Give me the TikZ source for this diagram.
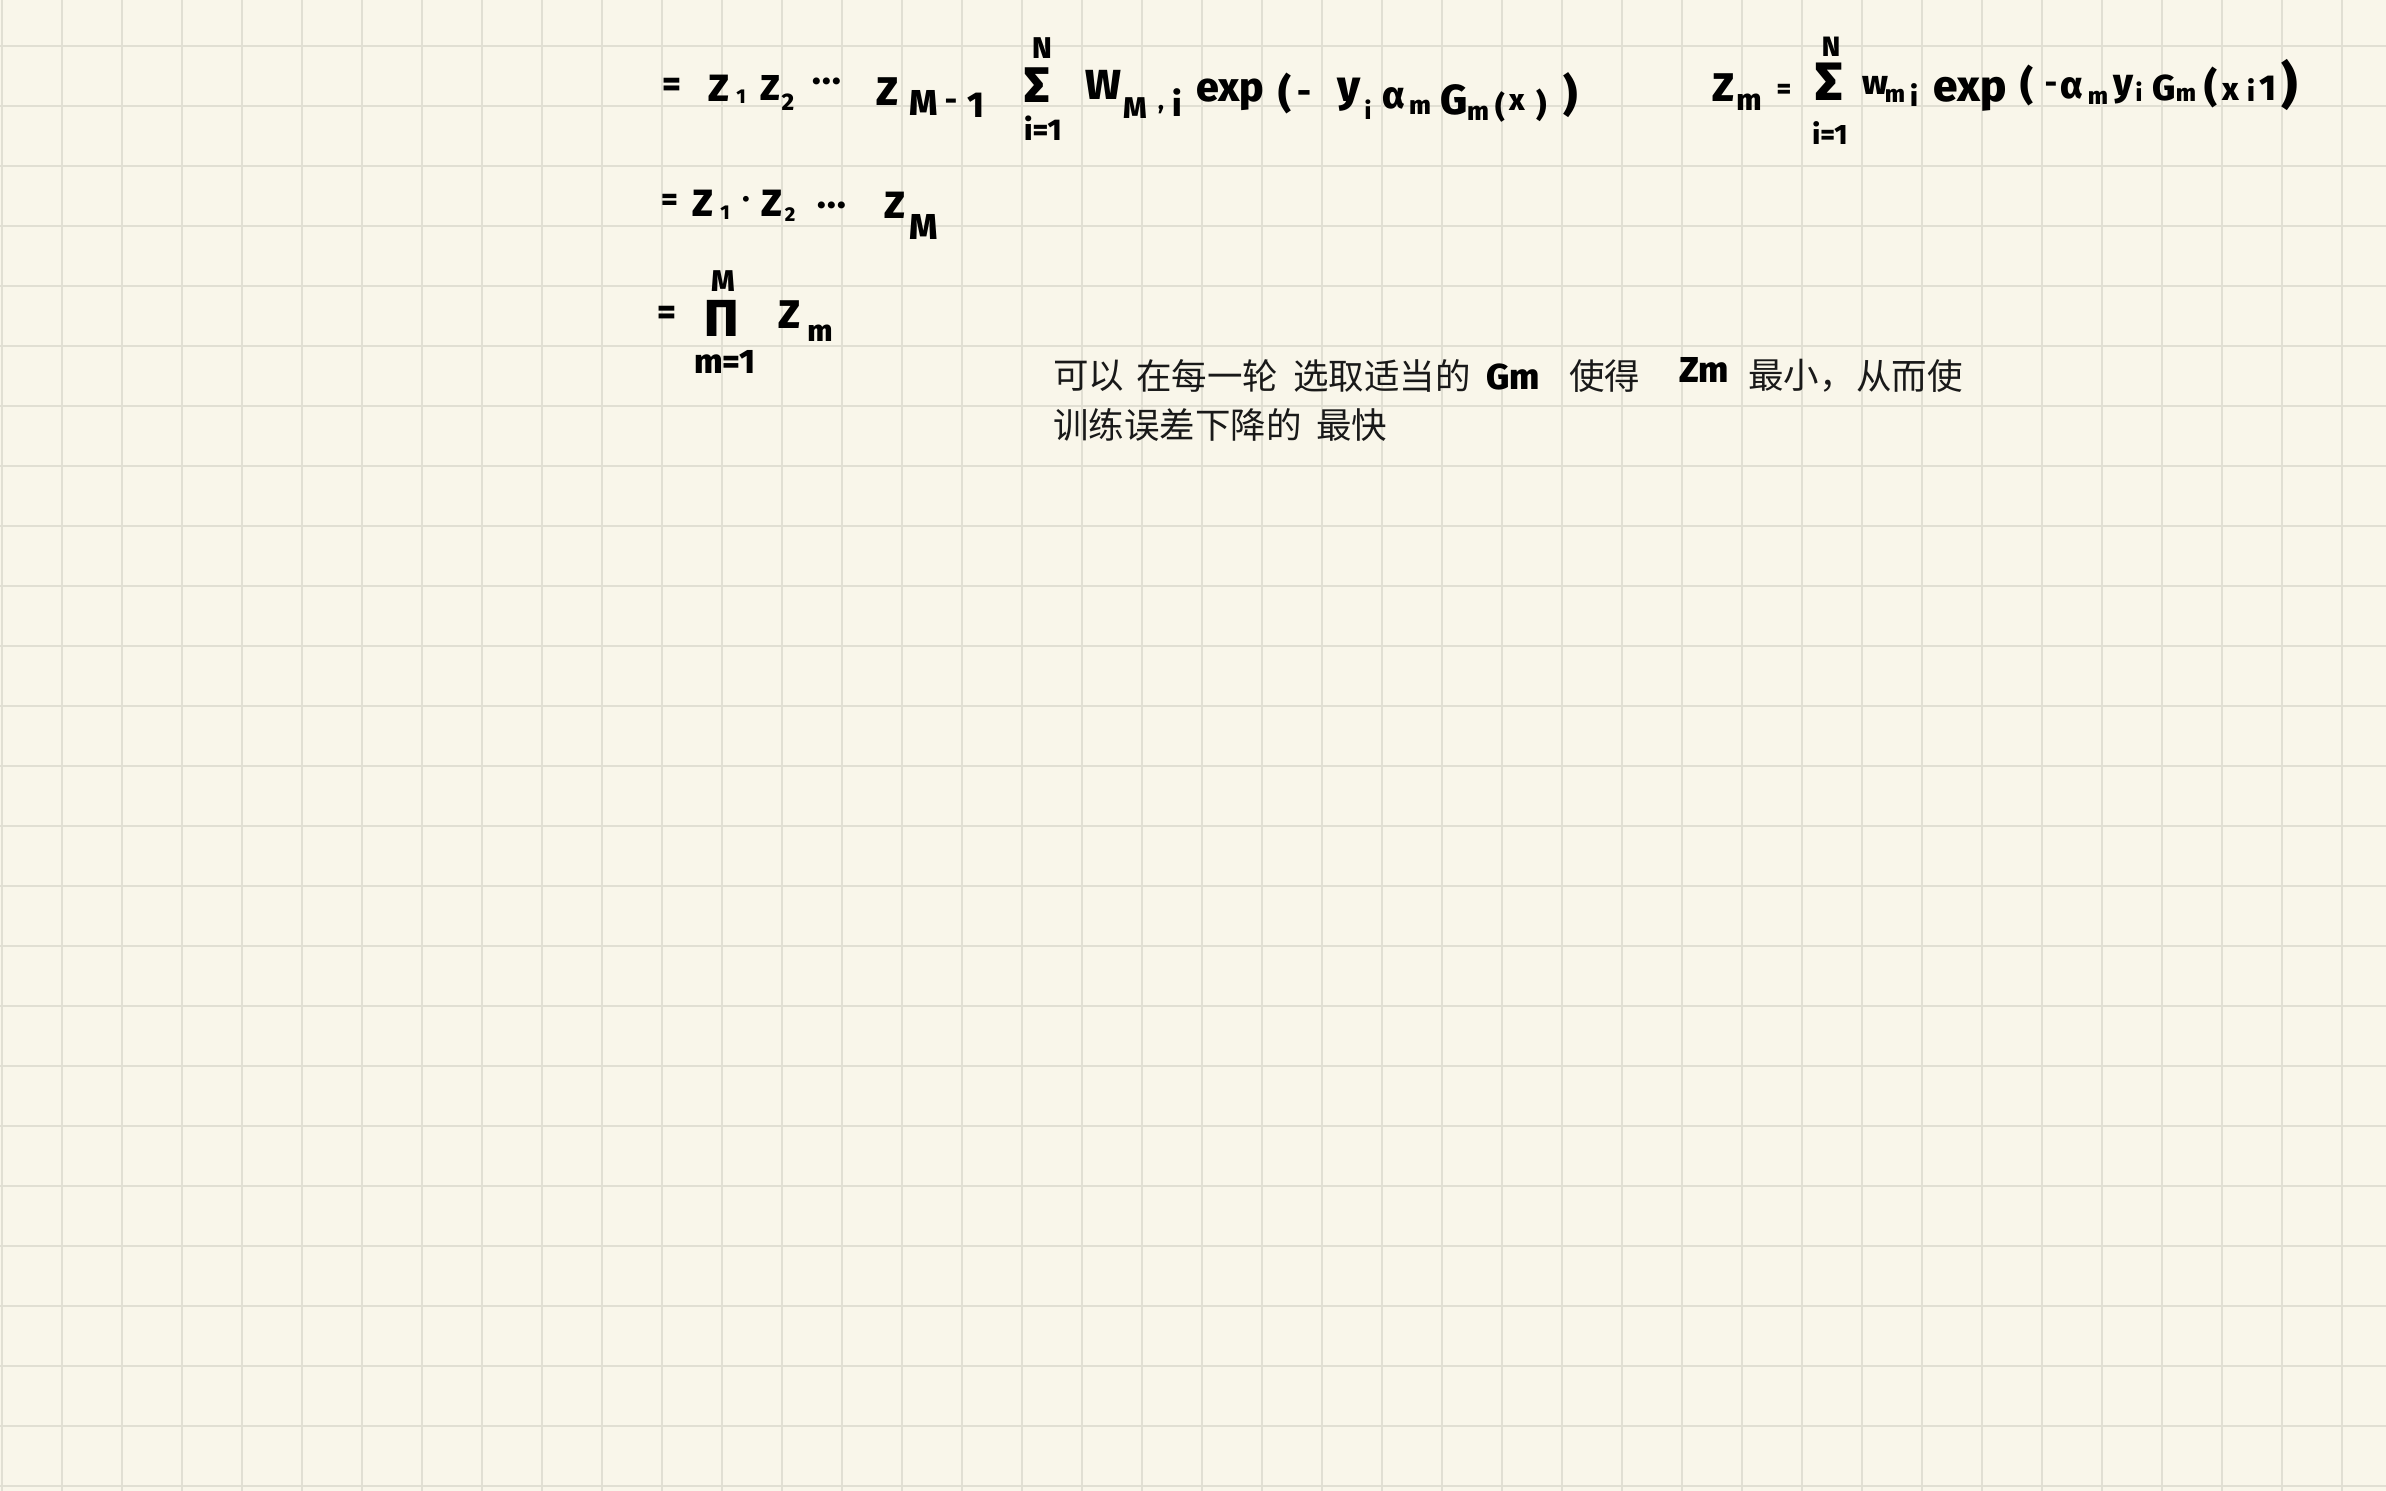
\documentclass[tikz,border=0pt]{standalone}
\usepackage{fontspec}
\setmainfont{Fira Sans}
\newfontfamily\hwfont{Fira Sans ExtraBold}
\newfontfamily\cjkfont{Noto Sans CJK SC}
\definecolor{paper}{HTML}{F9F6EA}
\definecolor{gridc}{HTML}{E1DFD3}
\newcommand{\hw}[5]{\node[hand] (#1) at (#2,#3) {\fontsize{#4}{#4}\selectfont #5};}
\newcommand{\cj}[4]{\node[cjk] (#1) at (#2,#3) {#4};}
\tikzset{
  hand/.style={inner sep=0pt,outer sep=0pt,anchor=center,text=black,font=\hwfont},
  cjk/.style={inner sep=0pt,outer sep=0pt,anchor=west,text=black!90,font=\cjkfont\fontsize{35.5}{40}\selectfont},
  gridline/.style={draw=gridc,line width=2.6pt}
}
\begin{document}
\begin{tikzpicture}[x=1pt,y=-1pt]
\fill[paper] (0,0) rectangle (2386,1491);
\useasboundingbox (0,0) rectangle (2386,1491);
\foreach \i in {0,...,39} {\draw[gridline] ({2+60*\i},0) -- ({2+60*\i},1491);}
\foreach \j in {0,...,24} {\draw[gridline] (0,{46+60*\j}) -- (2386,{46+60*\j});}
% line 1
\hw{a1}{672}{87}{36}{=}
\hw{a2}{719}{88}{38}{Z}
\hw{a3}{741}{97}{20}{1}
\hw{a4}{770}{88}{36}{Z}
\hw{a5}{788}{102}{24}{2}
\hw{a6}{827}{85}{36}{·\kern1.5pt·\kern1.5pt·}
\hw{a7}{887}{92}{40}{Z}
\hw{a8}{924}{103}{36}{M}
\hw{a9}{951}{105}{30}{-}
\hw{a10}{976}{105}{36}{1}
\hw{a11}{1042}{48}{30}{N}
\hw{a12}{1037}{85}{50}{Σ}
\hw{a13}{1043}{128}{30}{i=1}
\hw{a14}{1103}{85}{42}{W}
\hw{a15}{1135}{108}{30}{M}
\hw{a16}{1161}{110}{24}{,}
\hw{a17}{1177}{103}{34}{i}
\hw{a18}{1230}{95}{41}{exp}
\hw{a19}{1285}{93}{40}{(}
\hw{a20}{1304}{97}{34}{-}
\hw{a21}{1349}{95}{44}{y}
\hw{a22}{1368}{110}{24}{i}
\hw{a23}{1394}{98}{38}{α}
\hw{a24}{1420}{107}{26}{m}
\hw{a25}{1454}{100}{42}{G}
\hw{a26}{1478}{113}{26}{m}
\hw{a27}{1500}{107}{30}{(}
\hw{a28}{1517}{103}{30}{x}
\hw{a29}{1542}{105}{32}{)}
\hw{a30}{1571}{95}{44}{)}
% line 2
\hw{b1}{670}{202}{32}{=}
\hw{b2}{703}{203}{38}{Z}
\hw{b3}{725}{213}{20}{1}
\hw{b4}{746}{202}{30}{·}
\hw{b5}{772}{203}{38}{Z}
\hw{b6}{790}{215}{20}{2}
\hw{b7}{832}{209}{36}{·\kern1.5pt·\kern1.5pt·}
\hw{b8}{895}{205}{38}{Z}
\hw{b9}{924}{227}{36}{M}
% line 3
\hw{c1}{667}{315}{36}{=}
\hw{c2}{723}{281}{30}{M}
\hw{c3}{722}{318}{52}{Π}
\hw{c4}{789}{315}{40}{Z}
\hw{c5}{820}{333}{30}{m}
\hw{c6}{725}{362}{34}{m=1}
% right formula
\hw{d1}{1723}{88}{40}{Z}
\hw{d2}{1749}{102}{30}{m}
\hw{d3}{1784}{91}{28}{=}
\hw{d4}{1831}{47}{28}{N}
\hw{d5}{1829}{82}{54}{Σ}
\hw{d6}{1830}{133}{28}{i=1}
\hw{d7}{1875}{85}{34}{w}
\hw{d8}{1895}{96}{24}{m}
\hw{d9}{1914}{95}{28}{i}
\hw{d10}{1970}{94}{44}{exp}
\hw{d11}{2027}{85}{40}{(}
\hw{d12}{2051}{88}{30}{-}
\hw{d13}{2072}{88}{38}{α}
\hw{d14}{2098}{98}{24}{m}
\hw{d15}{2123}{90}{38}{y}
\hw{d16}{2139}{92}{24}{i}
\hw{d17}{2164}{88}{36}{G}
\hw{d18}{2186}{95}{24}{m}
\hw{d19}{2211}{87}{40}{(}
\hw{d20}{2231}{92}{32}{x}
\hw{d21}{2251}{90}{28}{i}
\hw{d22}{2268}{88}{36}{1}
\hw{d23}{2290}{85}{50}{)}
% chinese note
\cj{e1}{1053}{376}{可以}
\cj{e2}{1136}{376}{在每一轮}
\cj{e3}{1293}{376}{选取适当的}
\hw{e4}{1513}{377}{36}{Gm}
\cj{e5}{1569}{376}{使得}
\hw{e6}{1704}{370}{36}{Zm}
\cj{e7}{1748}{376}{最小，}
\cj{e8}{1856}{376}{从而使}
\cj{f1}{1053}{425}{训练误差下降的}
\cj{f2}{1316}{425}{最快}
\end{tikzpicture}
\end{document}
